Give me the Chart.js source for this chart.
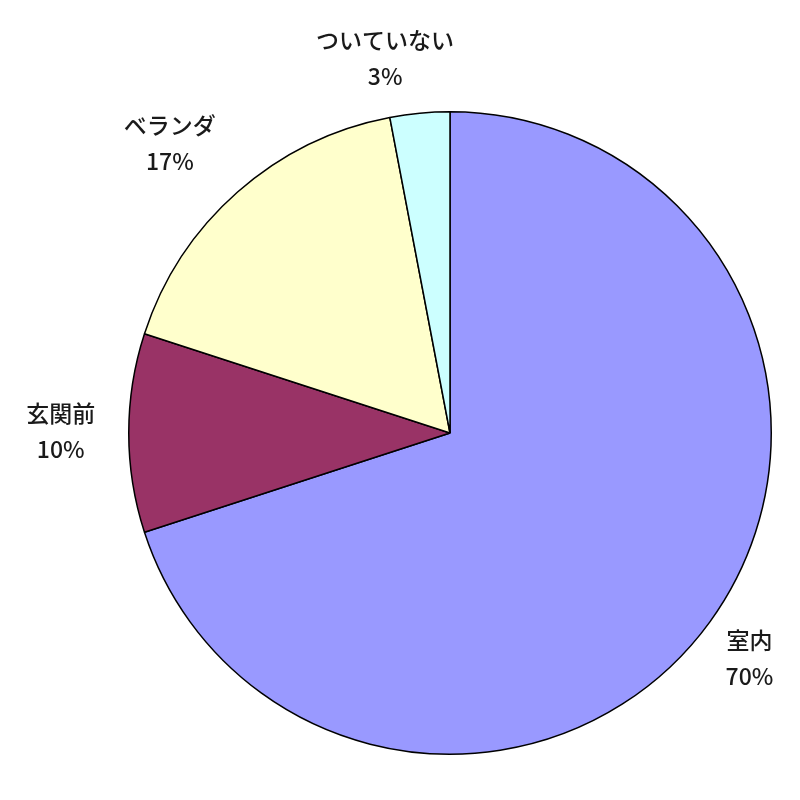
<!DOCTYPE html>
<html>
<head>
<meta charset="utf-8">
<script src="https://cdn.jsdelivr.net/npm/chart.js@4"></script>
<style>
    html, body { margin: 0; padding: 0; background: #fff; }
    #wrap { width: 800px; height: 800px; }
</style>
</head>
<body>
<div id="wrap"><canvas id="grafico"></canvas></div>
<script>
// dados do gráfico
const categorias = ['室内', '玄関前', 'ベランダ', 'ついていない'];
const valores = [70, 10, 17, 3];
const rotulos = ['70%', '10%', '17%', '3%'];
const cores = ['#9999FF', '#993366', '#FFFFCC', '#CCFFFF'];

// desenha os rótulos fora das fatias
const rotulosExternos = {
    id: 'rotulosExternos',
    afterDatasetsDraw(chart, args, opts) {
        const ctx = chart.ctx;
        const meta = chart.getDatasetMeta(0);
        ctx.save();
        ctx.fillStyle = '#1a1a1a';
        ctx.font = '500 23px "Noto Sans CJK JP", sans-serif';
        ctx.textAlign = 'center';
        ctx.textBaseline = 'middle';
        meta.data.forEach((arc, i) => {
            const meio = (arc.startAngle + arc.endAngle) / 2;
            const dist = arc.outerRadius + 60;
            const ajuste = opts.ajustes[i] || [0, 0];
            const x = arc.x + Math.cos(meio) * dist + ajuste[0];
            const y = arc.y + Math.sin(meio) * dist + ajuste[1];
            ctx.fillText(categorias[i], x, y - 18);
            ctx.fillText(rotulos[i], x, y + 18);
        });
        ctx.restore();
    }
};

const ctx = document.getElementById('grafico').getContext('2d');
const grafico = new Chart(ctx, {
    type: 'pie',
    data: {
        labels: categorias,
        datasets: [{
            data: valores,
            backgroundColor: cores,
            borderColor: '#000',
            borderWidth: 1.5
        }]
    },
    options: {
        responsive: true,
        maintainAspectRatio: false,
        animation: false,
        layout: {
            padding: { left: 128, right: 28, top: 111, bottom: 45 }
        },
        plugins: {
            legend: { display: false },
            tooltip: { enabled: false },
            rotulosExternos: {
                ajustes: [[-9, 1], [-8, -2], [-28, -4], [-29, 5]]
            }
        }
    },
    plugins: [rotulosExternos]
});
</script>
</body>
</html>
